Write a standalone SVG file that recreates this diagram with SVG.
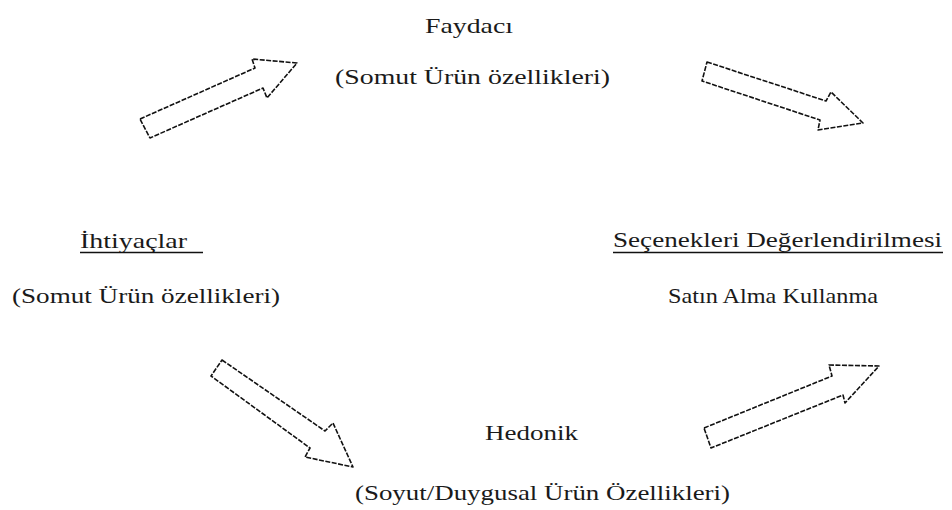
<svg xmlns="http://www.w3.org/2000/svg" width="952" height="510" viewBox="0 0 952 510">
<style>
text{font-family:"Liberation Serif","Times New Roman",serif;font-size:21px;fill:#1a1a1a}
.arrow{fill:#fff;stroke:#111;stroke-width:1.6;stroke-dasharray:5 1.5;stroke-linejoin:round}
.ul{stroke:#111;stroke-width:1.6}
</style>
<rect width="952" height="510" fill="#fff"/>
<g id="connectors">
<polygon class="arrow" points="140,119 255,68 252,59 297,63 267,98 263,88 150,138"/>
<polygon class="arrow" points="707,62 826,101 831,92 863,123 818,130 820,120 702,81"/>
<polygon class="arrow" points="222,360 325,431 333,423 353,467 305,457 310,448 211,376"/>
<polygon class="arrow" points="704,428 832,376 829,365 879,366 845,403 843,395 711,448"/>
</g>
<g id="node-faydaci">
<text x="425" y="33" textLength="88" lengthAdjust="spacingAndGlyphs">Faydacı</text>
<text x="335" y="84" textLength="275" lengthAdjust="spacingAndGlyphs">(Somut Ürün özellikleri)</text>
</g>
<g id="node-ihtiyaclar">
<text x="80" y="248" textLength="107" lengthAdjust="spacingAndGlyphs">İhtiyaçlar</text>
<line class="ul" x1="80" y1="252.5" x2="203" y2="252.5"/>
<text x="12" y="303" textLength="268" lengthAdjust="spacingAndGlyphs">(Somut Ürün özellikleri)</text>
</g>
<g id="node-secenekleri">
<text x="613" y="247" textLength="329" lengthAdjust="spacingAndGlyphs">Seçenekleri Değerlendirilmesi</text>
<line class="ul" x1="613" y1="252.5" x2="943" y2="252.5"/>
<text x="668" y="303" textLength="210" lengthAdjust="spacingAndGlyphs">Satın Alma Kullanma</text>
</g>
<g id="node-hedonik">
<text x="485" y="440" textLength="93" lengthAdjust="spacingAndGlyphs">Hedonik</text>
<text x="355" y="500" textLength="375" lengthAdjust="spacingAndGlyphs">(Soyut/Duygusal Ürün Özellikleri)</text>
</g>
</svg>
